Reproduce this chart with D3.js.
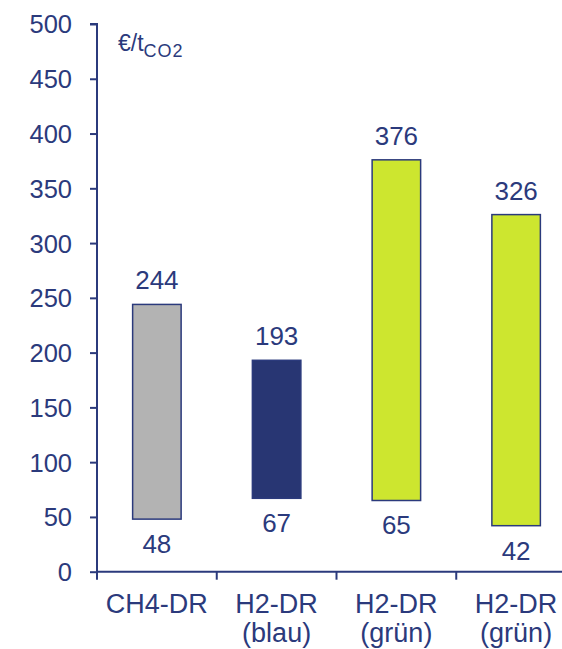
<!DOCTYPE html>
<html>
<head>
<meta charset="utf-8">
<script src="https://cdn.jsdelivr.net/npm/d3@7"></script>
<style>
  html, body { margin: 0; padding: 0; background: #ffffff; }
  svg { display: block; font-family: "Liberation Sans", Arial, sans-serif; }
</style>
</head>
<body>
<svg id="chart" width="562" height="649"></svg>
<script>
// Cost range per route (€/t CO2): lower and upper bound of each floating bar
const categories = ["CH4-DR", "H2-DR (blau)", "H2-DR (grün)", "H2-DR (grün) "];
const labelLines = [["CH4-DR"], ["H2-DR", "(blau)"], ["H2-DR", "(grün)"], ["H2-DR", "(grün)"]];
const lowValues = [48, 67, 65, 42];
const highValues = [244, 193, 376, 326];
const barColors = ["#b3b3b3", "#283673", "#cde62f", "#cde62f"];
const yTicks = [0, 50, 100, 150, 200, 250, 300, 350, 400, 450, 500];

const navy = "#2b3a7c";
const svg = d3.select("#chart");

const x = d3.scaleBand().domain(categories).range([97, 576]).paddingInner(0).paddingOuter(0);
const y = d3.scaleLinear().domain([0, 500]).range([571.7, 24]);

const barW = x.bandwidth() * 0.405;

// Y axis
const yAxis = svg.append("g")
  .attr("transform", "translate(97,0)")
  .call(d3.axisLeft(y).tickValues(yTicks).tickSize(7).tickPadding(18).tickFormat(d3.format("d")));
yAxis.select(".domain").attr("stroke", navy).attr("stroke-width", 2).attr("d", `M-7,${y(500)}H0V${y(0)}`);
yAxis.selectAll(".tick line").attr("stroke", navy).attr("stroke-width", 2);
yAxis.selectAll(".tick text").attr("fill", navy).attr("font-size", 25.5).attr("font-family", "Liberation Sans, Arial, sans-serif").attr("dy", "0.35em");

// X axis: band boundaries carry downward ticks
const xAxis = svg.append("g").attr("transform", `translate(0,${y(0)})`);
xAxis.append("line")
  .attr("x1", 97).attr("x2", 562).attr("y1", 0).attr("y2", 0)
  .attr("stroke", navy).attr("stroke-width", 2);
xAxis.selectAll("line.tick")
  .data(categories.slice(0, 4))
  .join("line")
  .attr("class", "tick")
  .attr("x1", d => x(d)).attr("x2", d => x(d))
  .attr("y1", 0).attr("y2", 8)
  .attr("stroke", navy).attr("stroke-width", 2);

// Category labels (one or two lines)
categories.forEach((c, i) => {
  const t = svg.append("text")
    .attr("x", x(c) + x.bandwidth() / 2)
    .attr("y", 613)
    .attr("text-anchor", "middle")
    .attr("fill", navy)
    .attr("font-size", 27);
  labelLines[i].forEach((line, j) => {
    t.append("tspan")
      .attr("x", x(c) + x.bandwidth() / 2)
      .attr("dy", j === 0 ? 0 : 28.5)
      .text(line);
  });
});

// Floating bars
svg.selectAll("rect.bar")
  .data(categories)
  .join("rect")
  .attr("class", "bar")
  .attr("x", d => x(d) + x.bandwidth() / 2 - barW / 2)
  .attr("y", (d, i) => y(highValues[i]))
  .attr("width", barW)
  .attr("height", (d, i) => y(lowValues[i]) - y(highValues[i]))
  .attr("fill", (d, i) => barColors[i])
  .attr("stroke", navy)
  .attr("stroke-width", 1.5);

// Upper value labels
svg.selectAll("text.hi")
  .data(categories)
  .join("text")
  .attr("class", "hi")
  .attr("x", d => x(d) + x.bandwidth() / 2)
  .attr("y", (d, i) => y(highValues[i]) - 15)
  .attr("text-anchor", "middle")
  .attr("fill", navy)
  .attr("font-size", 26)
  .text((d, i) => highValues[i]);

// Lower value labels
svg.selectAll("text.lo")
  .data(categories)
  .join("text")
  .attr("class", "lo")
  .attr("x", d => x(d) + x.bandwidth() / 2)
  .attr("y", (d, i) => y(lowValues[i]) + 34)
  .attr("text-anchor", "middle")
  .attr("fill", navy)
  .attr("font-size", 26)
  .text((d, i) => lowValues[i]);

// Unit label
const unit = svg.append("text")
  .attr("x", 118)
  .attr("y", 51)
  .attr("fill", navy)
  .attr("font-size", 23);
unit.append("tspan").text("€/t");
unit.append("tspan").attr("font-size", 18).attr("letter-spacing", 1).attr("dy", 6).text("CO2");
</script>
</body>
</html>
